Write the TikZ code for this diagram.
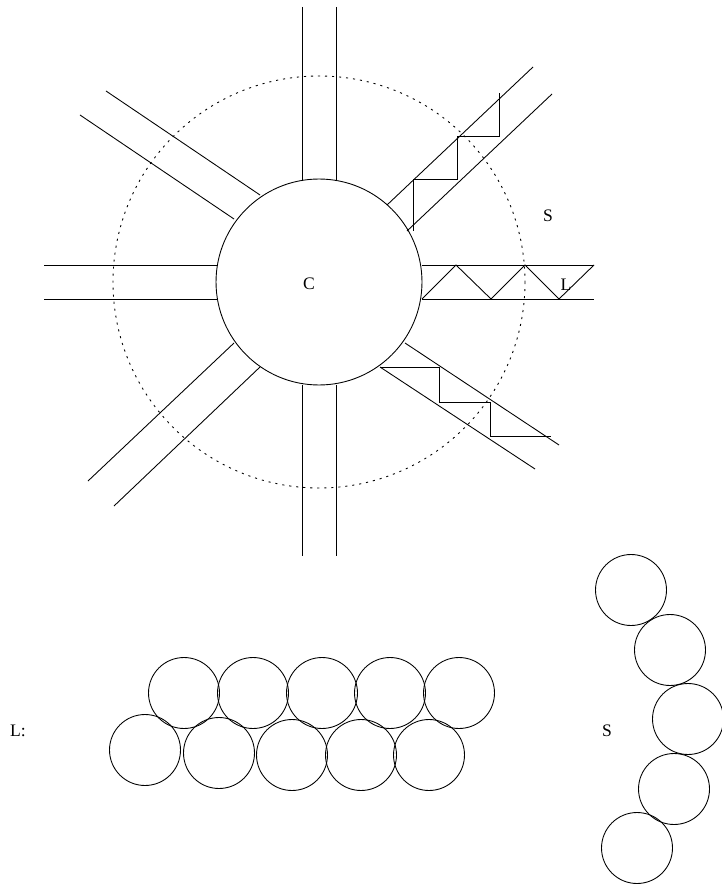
\documentclass[tikz,border=0pt]{standalone}
\usepackage{fontspec}
\setmainfont{Liberation Serif}
\usetikzlibrary{positioning}
\tikzset{
  edge/.style={line width=0.5pt,color=black},
  ring/.style={edge,dash pattern=on 1.2pt off 2.8pt},
  bead/.style={circle,draw,line width=0.5pt,minimum size=1.42cm,inner sep=0pt},
  hub/.style={circle,draw,line width=0.5pt,minimum size=4.12cm,inner sep=0pt},
  tag/.style={font=\fontsize{10}{12}\selectfont,inner sep=0pt},
}

\begin{document}
\begin{tikzpicture}[x=0.02cm,y=-0.02cm]
  \useasboundingbox (0,0) rectangle (722,888);
  % core and outer limit
  \node[hub] (core) at (319,282) {};
  \draw[ring] (core.center) circle (206);
  % arms
  \foreach \xa/\ya/\xb/\yb in {302/7/302/180,336/7/336/180,44/265/217/265,44/299/217/299,
      422/265/594/265,422/299/594/299,302/385/302/556,336/385/336/556,
      106/91/260/195,80/115/234/219,387/205/533/67,407/231/552/94,
      405/343/559/445,380/367/535/469,234/343/88/481,260/367/114/506}
    \draw[edge] (\xa,\ya) -- (\xb,\yb);
  % chain paths
  \draw[edge] (413,231) -- (413,179) -- (457,179) -- (457,136) -- (499,136) -- (499,93);
  \draw[edge] (422,299) -- (456,265) -- (491,299) -- (525,265) -- (559,299) -- (594,265);
  \draw[edge] (380,367) -- (439,367) -- (439,402) -- (490,402) -- (490,436) -- (551,436);
  % labels
  \node[tag] (lblC) at (309,284) {C};
  \node[tag] (lblS) at (548,216) {S};
  \node[tag] (lblL) at (566,285) {L};
  % lamellar row
  \foreach \x/\y [count=\i] in {184/693,253/693,322/693,390/693,459/693,145/750,219/753,292/755,361/755,429/755}
    \node[bead] (l\i) at (\x,\y) {};
  \node[tag] (lblLong) at (18,731) {L:};
  % short row
  \foreach \x/\y [count=\i] in {631/590,670/650,688/719,674/789,637/848}
    \node[bead] (s\i) at (\x,\y) {};
  \node[tag] (lblShort) at (607,731) {S};
\end{tikzpicture}
\end{document}
